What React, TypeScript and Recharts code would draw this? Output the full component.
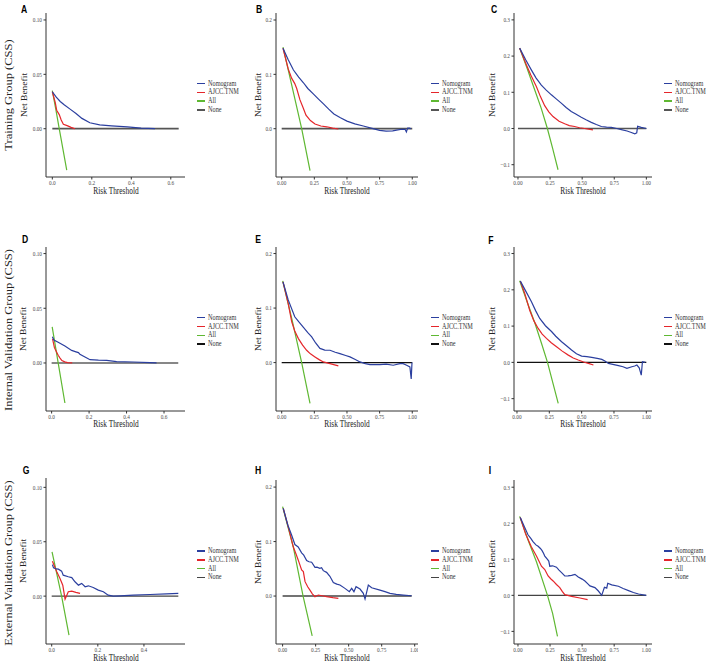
import { LineChart, Line, XAxis, YAxis } from 'recharts'

type Pt = [number, number]

const SERIF = '"Liberation Serif", "Times New Roman", serif'
const SANS = '"Liberation Sans", Arial, sans-serif'
// the source figure is squeezed horizontally, text included
const SQUEEZE = 0.78

const seriesNames = ['Nomogram', 'AJCC.TNM', 'All', 'None']
const seriesColors = ['#2b3f9f', '#e5262b', '#5fb832']
const rowTitles = [
  'Training Group (CSS)',
  'Internal Validation Group (CSS)',
  'External Validation Group (CSS)',
]

const xTicksShort = [0, 0.2, 0.4, 0.6]
const xTicksShortG = [0, 0.2, 0.4]
const xTicksFull = [0, 0.25, 0.5, 0.75, 1]
const yTicksSmall = [0, 0.05, 0.1]
const yTicksMid = [0, 0.1, 0.2]
const yTicksBig = [-0.1, 0, 0.1, 0.2, 0.3]

// ---- A: training, panel 1
const aNom: Pt[] = [[0, 0.034], [0.02, 0.029], [0.04, 0.025], [0.06, 0.022], [0.09, 0.018], [0.12, 0.014], [0.15, 0.0095], [0.19, 0.0055], [0.24, 0.0035], [0.3, 0.0026], [0.38, 0.0016], [0.45, 0.0006], [0.52, 0]]
const aAjcc: Pt[] = [[0, 0.034], [0.015, 0.024], [0.022, 0.017], [0.035, 0.013], [0.045, 0.008], [0.056, 0.004], [0.075, 0.0028], [0.095, 0.0012], [0.115, 0]]
const aAll: Pt[] = [[0, 0.035], [0.018, 0.0175], [0.035, 0], [0.073, -0.038]]
const aNone: Pt[] = [[0, 0], [0.64, 0]]

// ---- B
const bNom: Pt[] = [[0.01, 0.148], [0.05, 0.127], [0.09, 0.108], [0.13, 0.095], [0.165, 0.085], [0.2, 0.074], [0.242, 0.064], [0.28, 0.055], [0.318, 0.046], [0.36, 0.036], [0.4, 0.027], [0.45, 0.02], [0.5, 0.014], [0.56, 0.009], [0.625, 0.005], [0.7, 0], [0.75, -0.003], [0.8, -0.0045], [0.85, -0.004], [0.88, -0.0025], [0.92, -0.001], [0.945, -0.0012], [0.955, -0.006], [0.965, 0.001], [0.98, 0.001], [0.99, 0]]
const bAjcc: Pt[] = [[0.01, 0.148], [0.05, 0.11], [0.076, 0.093], [0.1, 0.083], [0.115, 0.074], [0.14, 0.053], [0.165, 0.038], [0.186, 0.025], [0.22, 0.015], [0.255, 0.0086], [0.3, 0.005], [0.345, 0.0035], [0.39, 0.001], [0.434, -0.0006]]
const bAll: Pt[] = [[0.01, 0.15], [0.08, 0.077], [0.153, 0], [0.217, -0.077]]
const bNone: Pt[] = [[0, 0], [1, 0]]

// ---- C
const cNom: Pt[] = [[0.013, 0.222], [0.06, 0.19], [0.104, 0.162], [0.14, 0.14], [0.182, 0.12], [0.22, 0.106], [0.26, 0.093], [0.3, 0.081], [0.337, 0.07], [0.375, 0.058], [0.415, 0.047], [0.45, 0.04], [0.493, 0.031], [0.53, 0.024], [0.571, 0.017], [0.61, 0.011], [0.649, 0.0055], [0.69, 0.004], [0.727, 0.003], [0.77, 0], [0.805, -0.003], [0.85, -0.007], [0.883, -0.011], [0.91, -0.015], [0.925, -0.012], [0.932, 0.006], [0.96, 0.003], [1, 0]]
const cAjcc: Pt[] = [[0.013, 0.222], [0.065, 0.176], [0.1, 0.148], [0.143, 0.116], [0.175, 0.088], [0.208, 0.063], [0.24, 0.046], [0.273, 0.033], [0.32, 0.02], [0.364, 0.0129], [0.4, 0.008], [0.441, 0.0055], [0.48, 0.002], [0.519, 0], [0.55, -0.002], [0.584, -0.0037]]
const cAll: Pt[] = [[0.013, 0.222], [0.07, 0.167], [0.13, 0.107], [0.18, 0.057], [0.229, 0], [0.27, -0.055], [0.312, -0.114]]
const cNone: Pt[] = [[0, 0], [1, 0]]

// ---- D: internal validation
const dNom: Pt[] = [[0.004, 0.024], [0.012, 0.021], [0.035, 0.019], [0.071, 0.0155], [0.107, 0.0115], [0.13, 0.0102], [0.143, 0.0095], [0.151, 0.008], [0.178, 0.0055], [0.205, 0.003], [0.25, 0.0026], [0.294, 0.0024], [0.347, 0.0012], [0.436, 0.0009], [0.525, 0.0003], [0.56, 0]]
const dAjcc: Pt[] = [[0.005, 0.022], [0.015, 0.014], [0.025, 0.0105], [0.035, 0.007], [0.045, 0.0045], [0.055, 0.0022], [0.07, 0.001], [0.085, 0.0003], [0.11, 0]]
const dAll: Pt[] = [[0.003, 0.033], [0.035, 0], [0.071, -0.0366]]
const dNone: Pt[] = [[0, 0], [0.676, 0]]

// ---- E
const eNom: Pt[] = [[0.01, 0.148], [0.05, 0.115], [0.1, 0.084], [0.13, 0.075], [0.165, 0.065], [0.2, 0.055], [0.23, 0.047], [0.26, 0.036], [0.293, 0.026], [0.33, 0.023], [0.37, 0.0226], [0.41, 0.019], [0.446, 0.0165], [0.49, 0.013], [0.523, 0.0104], [0.56, 0.006], [0.6, 0.0012], [0.64, -0.002], [0.676, -0.0037], [0.72, -0.0035], [0.753, -0.0037], [0.8, -0.003], [0.854, -0.0049], [0.906, -0.0018], [0.93, -0.002], [0.957, -0.0049], [0.982, -0.008], [0.992, -0.03], [0.998, 0]]
const eAjcc: Pt[] = [[0.01, 0.148], [0.05, 0.108], [0.077, 0.0745], [0.1, 0.058], [0.128, 0.044], [0.16, 0.032], [0.191, 0.0226], [0.22, 0.016], [0.255, 0.0104], [0.29, 0.005], [0.319, 0.0012], [0.37, -0.0018], [0.434, -0.0061]]
const eAll: Pt[] = [[0.0075, 0.15], [0.08, 0.078], [0.153, 0], [0.217, -0.075]]
const eNone: Pt[] = [[0, 0], [1, 0]]

// ---- F
const fNom: Pt[] = [[0.026, 0.224], [0.07, 0.195], [0.112, 0.167], [0.145, 0.142], [0.176, 0.121], [0.22, 0.101], [0.267, 0.085], [0.3, 0.072], [0.345, 0.0567], [0.385, 0.045], [0.422, 0.034], [0.46, 0.024], [0.5, 0.0174], [0.54, 0.016], [0.578, 0.0138], [0.62, 0.011], [0.656, 0.0083], [0.68, 0.004], [0.707, -0.0028], [0.75, -0.006], [0.785, -0.009], [0.82, -0.012], [0.85, -0.0165], [0.888, -0.012], [0.91, -0.01], [0.927, -0.0073], [0.945, -0.015], [0.961, -0.035], [0.97, 0.002], [0.992, 0]]
const fAjcc: Pt[] = [[0.026, 0.224], [0.06, 0.19], [0.099, 0.143], [0.13, 0.115], [0.164, 0.0935], [0.195, 0.078], [0.228, 0.066], [0.265, 0.054], [0.306, 0.043], [0.35, 0.031], [0.397, 0.02], [0.435, 0.012], [0.474, 0.0064], [0.515, 0.001], [0.552, -0.0028], [0.591, -0.0073]]
const fAll: Pt[] = [[0.021, 0.225], [0.08, 0.165], [0.137, 0.11], [0.19, 0.052], [0.236, 0], [0.28, -0.06], [0.319, -0.113]]
const fNone: Pt[] = [[0, 0], [1, 0]]

// ---- G: external validation
const gNom: Pt[] = [[0.003, 0.029], [0.008, 0.026], [0.02, 0.025], [0.029, 0.0248], [0.043, 0.023], [0.05, 0.0193], [0.072, 0.0178], [0.087, 0.017], [0.101, 0.0132], [0.116, 0.0101], [0.13, 0.0117], [0.145, 0.0086], [0.159, 0.0095], [0.18, 0.008], [0.202, 0.0055], [0.224, 0.004], [0.245, 0.0009], [0.267, 0], [0.296, 0.0003], [0.354, 0.0009], [0.426, 0.0015], [0.498, 0.0021], [0.549, 0.0025]]
const gAjcc: Pt[] = [[0.003, 0.032], [0.022, 0.0224], [0.036, 0.0163], [0.048, 0.0101], [0.058, -0.0028], [0.072, 0.004], [0.087, 0.0046], [0.105, 0.0035], [0.123, 0.0025]]
const gAll: Pt[] = [[0.0015, 0.0408], [0.043, 0], [0.075, -0.0359]]
const gNone: Pt[] = [[0, 0], [0.549, 0]]

// ---- H
const hNom: Pt[] = [[0.005, 0.161], [0.04, 0.13], [0.068, 0.112], [0.093, 0.0945], [0.118, 0.09], [0.144, 0.0794], [0.16, 0.075], [0.182, 0.0653], [0.2, 0.063], [0.22, 0.062], [0.245, 0.0527], [0.26, 0.053], [0.282, 0.0509], [0.295, 0.052], [0.308, 0.0466], [0.333, 0.0435], [0.358, 0.0362], [0.384, 0.025], [0.41, 0.022], [0.434, 0.0202], [0.472, 0.0141], [0.505, 0.008], [0.523, 0.0141], [0.54, 0.008], [0.556, 0.0172], [0.586, 0.0129], [0.611, 0.0049], [0.624, -0.0055], [0.649, 0.0202], [0.674, 0.0153], [0.737, 0.011], [0.775, 0.008], [0.813, 0.0049], [0.86, 0.003], [0.914, 0.0018], [0.977, 0.0006]]
const hAjcc: Pt[] = [[0.005, 0.161], [0.05, 0.12], [0.08, 0.0908], [0.1, 0.078], [0.118, 0.0663], [0.144, 0.0479], [0.157, 0.0448], [0.17, 0.0264], [0.19, 0.017], [0.207, 0.011], [0.225, 0.004], [0.245, -0.0012], [0.27, 0.0018], [0.3, 0.0005], [0.333, -0.0012], [0.38, -0.003], [0.422, -0.0043]]
const hAll: Pt[] = [[0, 0.164], [0.08, 0.091], [0.155, 0], [0.224, -0.073]]
const hNone: Pt[] = [[0, 0], [0.977, 0]]

// ---- I
const iNom: Pt[] = [[0.018, 0.216], [0.05, 0.19], [0.078, 0.168], [0.1, 0.158], [0.117, 0.149], [0.14, 0.14], [0.157, 0.136], [0.175, 0.13], [0.188, 0.124], [0.2, 0.116], [0.209, 0.109], [0.23, 0.1], [0.24, 0.095], [0.248, 0.0808], [0.27, 0.082], [0.3, 0.078], [0.32, 0.07], [0.34, 0.0629], [0.365, 0.0537], [0.39, 0.054], [0.418, 0.0555], [0.444, 0.0583], [0.47, 0.051], [0.5, 0.045], [0.522, 0.0399], [0.545, 0.032], [0.561, 0.0261], [0.6, 0.0215], [0.627, 0.012], [0.653, 0], [0.674, 0.0224], [0.692, 0.02], [0.7, 0.0335], [0.731, 0.029], [0.783, 0.0252], [0.82, 0.019], [0.862, 0.0132], [0.9, 0.008], [0.94, 0.0037], [1, 0]]
const iAjcc: Pt[] = [[0.018, 0.216], [0.06, 0.17], [0.104, 0.135], [0.144, 0.109], [0.183, 0.0808], [0.209, 0.0716], [0.235, 0.0537], [0.255, 0.046], [0.274, 0.0399], [0.3, 0.03], [0.326, 0.0215], [0.345, 0.011], [0.365, 0.0018], [0.418, -0.0028], [0.483, -0.0074], [0.543, -0.012]]
const iAll: Pt[] = [[0.013, 0.219], [0.08, 0.152], [0.144, 0.093], [0.23, 0], [0.27, -0.05], [0.308, -0.1135]]
const iNone: Pt[] = [[0, 0], [1, 0]]

interface PanelSpec {
  letter: string
  series: Pt[][] // nomogram, ajcc, all, none
  left: number
  right: number
  top: number
  bottom: number
  xDomain: [number, number]
  yDomain: [number, number]
  xTicks: number[]
  yTicks: number[]
  xDec: number
  yDec: number
  noneColor: string
  noneWidth: number
  ylabX: number
  xlabY: number
  legendX: number
  legendY: number
  letterX: number
  letterY: number
}

const panels: PanelSpec[] = [
  { letter: 'A', series: [aNom, aAjcc, aAll, aNone], left: 46, right: 185, top: 13, bottom: 177, xDomain: [-0.032, 0.672], yDomain: [-0.0444, 0.1064], xTicks: xTicksShort, yTicks: yTicksSmall, xDec: 1, yDec: 2, noneColor: '#555', noneWidth: 1.7, ylabX: 25, xlabY: 192, legendX: 197, legendY: 83.6, letterX: 23.5, letterY: 8.5 },
  { letter: 'B', series: [bNom, bAjcc, bAll, bNone], left: 276, right: 418, top: 13, bottom: 177, xDomain: [-0.0436, 1.044], yDomain: [-0.0889, 0.2129], xTicks: xTicksFull, yTicks: yTicksMid, xDec: 2, yDec: 1, noneColor: '#555', noneWidth: 1.7, ylabX: 259, xlabY: 192, legendX: 431, legendY: 83.6, letterX: 258.5, letterY: 8.5 },
  { letter: 'C', series: [cNom, cAjcc, cAll, cNone], left: 514, right: 652, top: 13, bottom: 177, xDomain: [-0.031, 1.044], yDomain: [-0.134, 0.319], xTicks: xTicksFull, yTicks: yTicksBig, xDec: 2, yDec: 1, noneColor: '#555', noneWidth: 1.7, ylabX: 493, xlabY: 192, legendX: 664, legendY: 83.6, letterX: 493.5, letterY: 8.5 },
  { letter: 'D', series: [dNom, dAjcc, dAll, dNone], left: 46, right: 185, top: 247, bottom: 411, xDomain: [-0.03, 0.712], yDomain: [-0.0439, 0.106], xTicks: xTicksShort, yTicks: yTicksSmall, xDec: 1, yDec: 2, noneColor: '#111', noneWidth: 1.1, ylabX: 24, xlabY: 425, legendX: 197, legendY: 317.7, letterX: 25, letterY: 239 },
  { letter: 'E', series: [eNom, eAjcc, eAll, eNone], left: 276, right: 418, top: 247, bottom: 411, xDomain: [-0.0436, 1.044], yDomain: [-0.0888, 0.212], xTicks: xTicksFull, yTicks: yTicksMid, xDec: 2, yDec: 1, noneColor: '#111', noneWidth: 1.1, ylabX: 259, xlabY: 425, legendX: 431, legendY: 317.7, letterX: 257.5, letterY: 239 },
  { letter: 'F', series: [fNom, fAjcc, fAll, fNone], left: 514, right: 652, top: 247, bottom: 411, xDomain: [-0.023, 1.044], yDomain: [-0.134, 0.318], xTicks: xTicksFull, yTicks: yTicksBig, xDec: 2, yDec: 1, noneColor: '#111', noneWidth: 1.1, ylabX: 493, xlabY: 425, legendX: 664, legendY: 317.7, letterX: 491, letterY: 239.5 },
  { letter: 'G', series: [gNom, gAjcc, gAll, gNone], left: 46, right: 185, top: 478, bottom: 644, xDomain: [-0.0247, 0.578], yDomain: [-0.044, 0.1086], xTicks: xTicksShortG, yTicks: yTicksSmall, xDec: 1, yDec: 2, noneColor: '#444', noneWidth: 1.4, ylabX: 24, xlabY: 658.5, legendX: 197, legendY: 551, letterX: 25.5, letterY: 470 },
  { letter: 'H', series: [hNom, hAjcc, hAll, hNone], left: 276, right: 418, top: 480, bottom: 644, xDomain: [-0.05, 1.025], yDomain: [-0.088, 0.213], xTicks: xTicksFull, yTicks: yTicksMid, xDec: 2, yDec: 1, noneColor: '#444', noneWidth: 1.4, ylabX: 259, xlabY: 658.5, legendX: 431, legendY: 551, letterX: 258, letterY: 469.5 },
  { letter: 'I', series: [iNom, iAjcc, iAll, iNone], left: 514, right: 652, top: 480, bottom: 644, xDomain: [-0.031, 1.045], yDomain: [-0.135, 0.32], xTicks: xTicksFull, yTicks: yTicksBig, xDec: 2, yDec: 1, noneColor: '#444', noneWidth: 1.4, ylabX: 493, xlabY: 658.5, legendX: 664, legendY: 551, letterX: 490, letterY: 469.5 },
]

const rowCenters = [95, 330, 563]

function fmt(v: number, dec: number) {
  return v.toFixed(dec).replace('-', '\u2212')
}

function toRows(pts: Pt[]) {
  return pts.map(([x, y]) => ({ x, y }))
}

function SqueezedTick(props: any) {
  const { x, y, payload, textAnchor, dec, side } = props
  return (
    <g transform={`translate(${x},${y}) scale(${SQUEEZE},1)`}>
      <text
        x={0}
        y={0}
        dy={side === 'y' ? '0.35em' : '0.72em'}
        textAnchor={textAnchor}
        fontSize={6.8}
        fill="#4d4d4d"
        style={{ fontFamily: SERIF }}
      >
        {fmt(payload.value, dec)}
      </text>
    </g>
  )
}

function Txt({ x, y, text, size, rotate, bold, sans, color = '#222', anchor = 'center' }: any) {
  const tx = anchor === 'left' ? '0' : '-50%'
  return (
    <div
      style={{
        position: 'absolute',
        left: x,
        top: y,
        transform: `translate(${tx},-50%) scaleX(${SQUEEZE})${rotate ? ' rotate(-90deg)' : ''}`,
        transformOrigin: anchor === 'left' ? 'left center' : 'center',
        whiteSpace: 'nowrap',
        fontSize: size,
        lineHeight: 1,
        fontWeight: bold ? 700 : 400,
        fontFamily: sans ? SANS : SERIF,
        color,
      }}
    >
      {text}
    </div>
  )
}

function Panel({ p }: { p: PanelSpec }) {
  const yw = 30
  const xh = 22
  const w = p.right - p.left + yw
  const h = p.bottom - p.top + xh
  const lineColors = [...seriesColors, p.noneColor]
  return (
    <>
      <div style={{ position: 'absolute', left: p.left - yw, top: p.top }}>
        <LineChart width={w} height={h} margin={{ top: 0, right: 0, bottom: 0, left: 0 }}>
          <XAxis
            type="number"
            dataKey="x"
            domain={p.xDomain}
            ticks={p.xTicks}
            interval={0}
            allowDataOverflow
            height={xh}
            tickSize={2.5}
            tickMargin={0.5}
            stroke="#333"
            tick={(t: any) => <SqueezedTick {...t} dec={p.xDec} side="x" />}
          />
          <YAxis
            type="number"
            dataKey="y"
            domain={p.yDomain}
            ticks={p.yTicks}
            interval={0}
            allowDataOverflow
            width={yw}
            tickSize={2.5}
            tickMargin={1.5}
            stroke="#333"
            tick={(t: any) => <SqueezedTick {...t} dec={p.yDec} side="y" />}
          />
          {[3, 2, 1, 0].map((i) => (
            <Line
              key={seriesNames[i]}
              data={toRows(p.series[i])}
              dataKey="y"
              type="linear"
              stroke={lineColors[i]}
              strokeWidth={i === 3 ? p.noneWidth : 1.2}
              dot={false}
              activeDot={false}
              isAnimationActive={false}
            />
          ))}
        </LineChart>
      </div>
      <Txt x={p.letterX} y={p.letterY} text={p.letter} size={11} bold sans color="#000" />
      <Txt x={p.ylabX} y={(p.top + p.bottom) / 2} text="Net Benefit" size={9.5} rotate />
      <Txt x={(p.left + p.right) / 2} y={p.xlabY} text="Risk Threshold" size={9.5} />
      {seriesNames.map((name, i) => (
        <div key={name}>
          <div
            style={{
              position: 'absolute',
              left: p.legendX,
              top: p.legendY + i * 8.8 - 0.75,
              width: 8,
              height: 1.5,
              background: lineColors[i],
            }}
          />
          <Txt x={p.legendX + 11} y={p.legendY + i * 8.8} text={name} size={8} anchor="left" color="#333" />
        </div>
      ))}
    </>
  )
}

export default function App() {
  return (
    <div
      style={{
        position: 'absolute',
        left: 0,
        top: 0,
        width: 708,
        height: 663,
        background: '#fff',
        overflow: 'hidden',
      }}
    >
      {rowTitles.map((t, i) => (
        <Txt key={t} x={9} y={rowCenters[i]} text={t} size={12.5} rotate color="#222" />
      ))}
      {panels.map((p) => (
        <Panel key={p.letter} p={p} />
      ))}
    </div>
  )
}
